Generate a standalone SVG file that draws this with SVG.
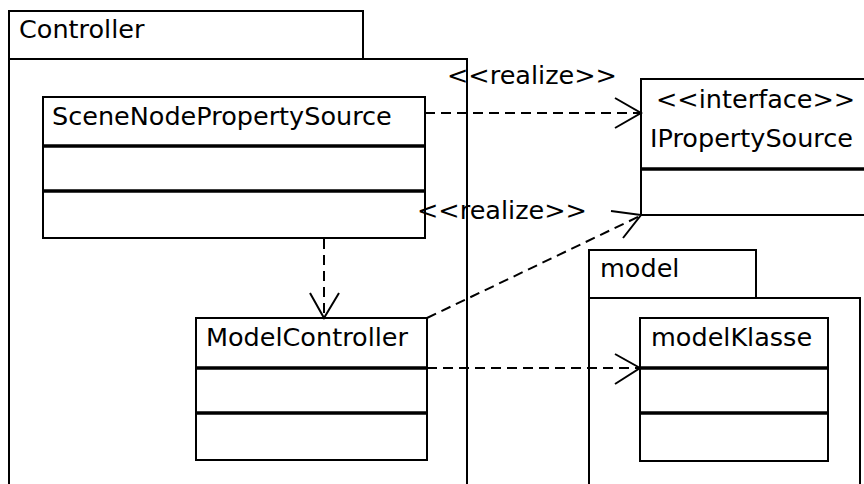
<svg xmlns="http://www.w3.org/2000/svg" width="864" height="484" viewBox="0 0 864 484">
<style>
.box{fill:#fff;stroke:#000;stroke-width:2}
.div{stroke:#000;stroke-width:3.5}
.t{font-family:"DejaVu Sans",sans-serif;font-size:25.5px;fill:#000}
.dash{fill:none;stroke:#000;stroke-width:2;stroke-dasharray:10 6}
.head{fill:none;stroke:#000;stroke-width:2}
</style>
<rect width="864" height="484" fill="#fff"/>
<g id="pkg-controller">
<rect class="box" x="9" y="11" width="354" height="48"/>
<rect class="box" x="9" y="59" width="458" height="440"/>
<text class="t" x="19" y="38">Controller</text>
</g>
<g id="pkg-model">
<rect class="box" x="589" y="250" width="167" height="48"/>
<rect class="box" x="589" y="298" width="271" height="200"/>
<text class="t" x="600" y="277">model</text>
</g>
<g id="SceneNodePropertySource">
<rect class="box" x="43" y="97" width="382" height="141"/>
<line class="div" x1="43" y1="146" x2="425" y2="146"/>
<line class="div" x1="43" y1="191" x2="425" y2="191"/>
<text class="t" x="52" y="124.5">SceneNodePropertySource</text>
</g>
<g id="ModelController">
<rect class="box" x="196" y="318" width="231" height="142"/>
<line class="div" x1="196" y1="368" x2="427" y2="368"/>
<line class="div" x1="196" y1="413" x2="427" y2="413"/>
<text class="t" x="206" y="346">ModelController</text>
</g>
<g id="IPropertySource">
<rect class="box" x="641" y="79" width="240" height="136"/>
<line class="div" x1="641" y1="169" x2="881" y2="169"/>
<text class="t" x="656" y="108">&lt;&lt;interface&gt;&gt;</text>
<text class="t" x="650" y="146.5">IPropertySource</text>
</g>
<g id="modelKlasse">
<rect class="box" x="640" y="318" width="188" height="143"/>
<line class="div" x1="640" y1="368" x2="828" y2="368"/>
<line class="div" x1="640" y1="413" x2="828" y2="413"/>
<text class="t" x="651" y="346">modelKlasse</text>
</g>
<g id="connectors">
<line class="dash" x1="425" y1="113" x2="640" y2="113"/>
<polyline class="head" points="615,98 641,113 615,128"/>
<text class="t" x="447" y="84">&lt;&lt;realize&gt;&gt;</text>
<line class="dash" x1="324" y1="239" x2="324" y2="317"/>
<polyline class="head" points="310,293 324,318 339,293"/>
<line class="dash" x1="427" y1="318" x2="640" y2="216"/>
<polyline class="head" points="611,211 641,215 623,238"/>
<text class="t" x="417" y="219">&lt;&lt;realize&gt;&gt;</text>
<line class="dash" x1="427" y1="368" x2="639" y2="368"/>
<polyline class="head" points="615,354 640,368 615,384"/>
</g>
</svg>
